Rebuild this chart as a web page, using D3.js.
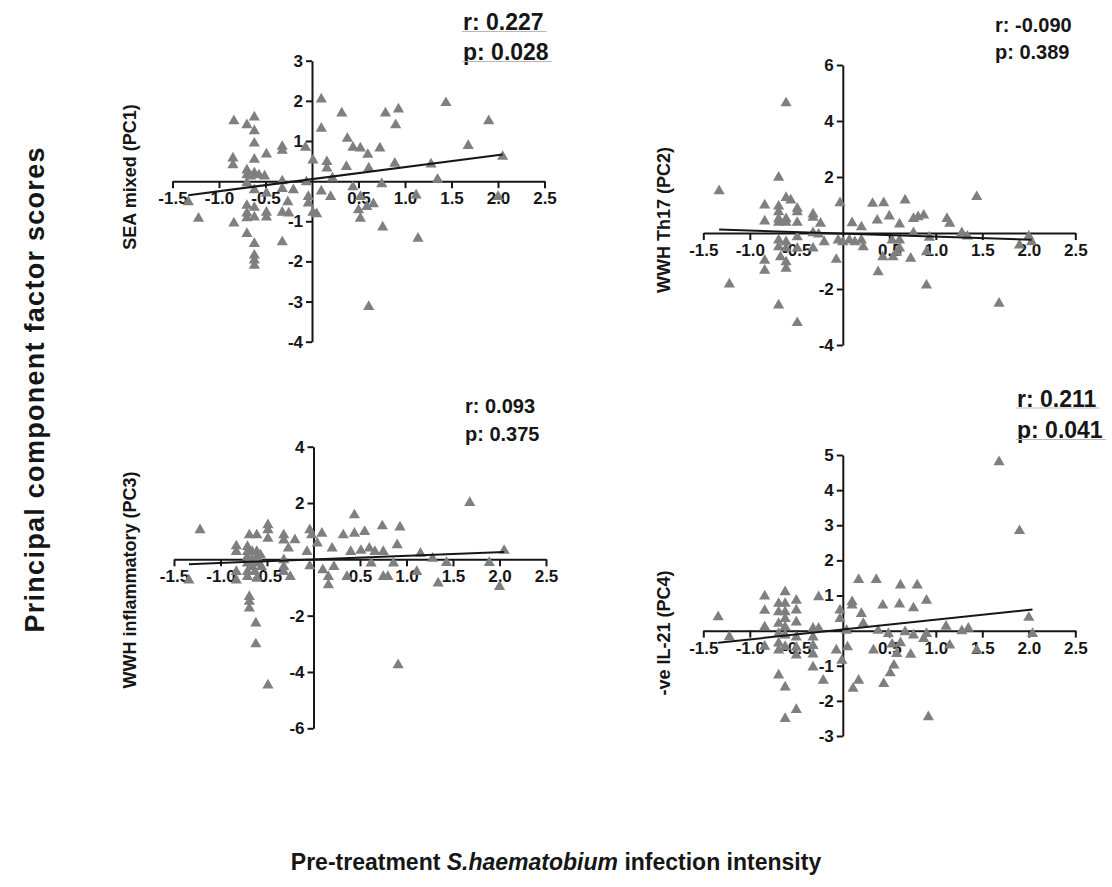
<!DOCTYPE html>
<html>
<head>
<meta charset="utf-8">
<script src="https://cdn.jsdelivr.net/npm/d3@7/dist/d3.min.js"></script>
<style>
  html, body { margin: 0; padding: 0; background: #fff; }
  svg { display: block; }
</style>
</head>
<body>
<svg id="chart" width="1112" height="887"></svg>
<script>
// Infection intensity (x) vs principal component factor scores (y)
const xTicks = [-1.5, -1.0, -0.5, 0.5, 1.0, 1.5, 2.0, 2.5];

const pc1YTicks = [3, 2, 1, -1, -2, -3, -4];
const pc2YTicks = [6, 4, 2, -2, -4];
const pc3YTicks = [4, 2, -2, -4, -6];
const pc4YTicks = [5, 4, 3, 2, 1, -1, -2, -3];

const pc1Points = [
  [0.10,2.04],[0.32,1.69],[-0.84,1.50],[-0.70,1.40],[-0.62,1.59],[-0.62,1.25],[-0.62,0.94],[0.10,1.31],
  [0.38,1.06],[0.44,0.84],[0.52,0.82],[0.60,0.66],[-0.32,0.86],[-0.32,0.76],[-0.49,0.67],[-0.07,0.84],
  [-0.85,0.57],[-0.85,0.40],[-0.62,0.54],[0.01,0.52],[0.16,0.48],[0.16,0.32],[0.37,0.36],[-0.70,0.27],
  [-0.70,0.15],[-0.62,0.20],[-0.57,0.15],[-0.51,0.12],[-0.66,0.12],[0.22,0.07],[-0.32,0.00],[-0.70,-0.05],
  [-0.06,-0.02],[-0.32,-0.19],[-0.20,-0.22],[-0.62,-0.22],[-0.49,-0.30],[0.10,-0.25],[0.20,-0.39],[0.44,-0.15],
  [0.52,-0.39],[-0.04,-0.39],[-0.04,-0.55],[-0.26,-0.52],[-0.70,-0.61],[-0.62,-0.66],[-0.70,-0.80],[-0.49,-0.78],
  [-0.49,-0.90],[-0.32,-0.78],[-0.25,-0.80],[0.01,-0.78],[0.05,-0.82],[-0.62,-0.90],[-0.70,-0.92],[-1.22,-0.93],
  [-0.84,-1.05],[0.52,-0.93],[-0.70,-1.31],[-0.62,-1.56],[-0.32,-1.52],[-0.62,-1.85],[-0.62,-1.97],[-0.62,-2.10],
  [-1.33,-0.52],[0.61,-3.13],[1.44,1.95],[1.90,1.50],[0.79,1.69],[0.93,1.79],[0.90,1.40],[0.73,0.82],
  [1.68,0.88],[2.05,0.61],[0.61,0.32],[0.89,0.44],[1.28,0.42],[1.35,0.04],[0.75,-0.07],[0.66,-0.57],
  [0.50,-0.72],[0.59,-0.64],[1.12,-0.35],[2.00,-0.39],[0.76,-1.15],[1.14,-1.43]
];

const pc2Points = [
  [-0.61,4.64],[-0.69,1.98],[-1.33,1.50],[-0.61,1.26],[-0.56,1.17],[-0.84,0.99],[-0.69,0.95],[-0.49,0.87],
  [-0.49,0.75],[-0.69,0.75],[-0.03,1.07],[-0.32,0.67],[-0.32,0.55],[-0.24,0.34],[-0.69,0.50],[-0.61,0.50],
  [-0.69,0.37],[-0.61,0.37],[-0.84,0.42],[-0.49,0.37],[0.10,0.36],[0.20,0.21],[0.32,1.05],[0.44,1.07],
  [0.37,0.45],[0.50,0.60],[0.67,1.17],[0.61,0.31],[-0.32,0.00],[-0.26,-0.05],[-0.20,-0.32],[-0.49,-0.14],
  [-0.69,-0.26],[-0.61,-0.32],[-0.69,-0.50],[-0.61,-0.55],[-0.49,-0.55],[-0.05,-0.26],[0.00,-0.32],[0.07,-0.26],
  [0.13,-0.32],[0.20,-0.26],[0.22,-0.50],[-0.32,-0.55],[-0.07,-0.95],[-0.84,-0.98],[-0.84,-1.34],[-0.61,-1.04],
  [-0.61,-1.27],[-0.67,-0.86],[0.38,-1.39],[0.53,-0.26],[0.61,-0.26],[0.61,-0.55],[0.58,-0.70],[0.43,-0.86],
  [-1.22,-1.83],[-0.69,-2.58],[-0.49,-3.21],[1.44,1.29],[0.76,0.51],[0.81,0.57],[0.87,0.63],[1.12,0.51],
  [1.15,0.34],[0.76,0.00],[0.93,-0.16],[1.28,0.00],[1.34,-0.12],[2.00,-0.12],[2.03,-0.32],[1.90,-0.44],
  [0.73,-0.91],[0.90,-0.68],[0.90,-1.87],[1.68,-2.52],[0.54,-0.86]
];

const pc3Points = [
  [-1.22,1.04],[-0.83,0.47],[-0.83,0.27],[-0.69,0.86],[-0.61,0.86],[-0.49,1.22],[-0.49,1.04],[-0.49,0.74],
  [-0.32,0.86],[-0.32,0.68],[-0.20,0.69],[-0.27,0.39],[-0.04,1.04],[-0.02,0.86],[0.09,0.92],[0.04,0.57],
  [-0.07,0.27],[0.20,0.39],[0.32,0.86],[0.44,1.57],[0.44,0.92],[0.55,0.98],[0.40,0.27],[0.51,0.31],
  [-0.71,0.45],[-0.71,0.27],[-0.66,0.27],[-0.61,0.27],[-0.71,0.09],[-0.66,-0.02],[-0.61,0.09],[-0.57,0.15],
  [-0.71,-0.14],[-0.66,-0.26],[-0.61,-0.14],[-0.71,-0.44],[-0.63,-0.44],[-0.56,-0.26],[-0.71,-0.62],[-0.61,-0.68],
  [-0.83,-0.44],[-0.83,-0.74],[-0.32,-0.02],[-0.32,-0.26],[-0.32,-0.44],[-0.25,-0.62],[-0.04,-0.24],[0.10,-0.38],
  [0.16,-0.62],[0.16,-0.91],[0.22,-0.26],[0.36,-0.62],[-1.34,-0.74],[-0.69,-1.33],[-0.69,-1.50],[-0.69,-1.74],
  [-0.62,-2.27],[-0.62,-3.01],[-0.49,-4.47],[0.74,1.18],[0.93,1.14],[0.90,0.51],[1.68,2.01],[2.05,0.31],
  [0.60,0.39],[0.66,0.27],[0.75,0.27],[0.62,-0.14],[0.86,-0.14],[0.75,-0.62],[0.80,-0.62],[1.11,-0.44],
  [1.15,0.21],[1.28,0.03],[1.43,-0.12],[1.34,-0.85],[1.89,-0.12],[2.00,-0.97],[0.91,-3.75]
];

const pc4Points = [
  [-1.34,0.39],[-1.22,-0.18],[-0.84,0.98],[-0.84,0.57],[-0.84,0.10],[-0.84,-0.45],[-0.62,1.10],[-0.69,0.77],
  [-0.69,0.53],[-0.62,0.77],[-0.62,0.53],[-0.62,0.34],[-0.69,0.20],[-0.62,0.10],[-0.69,-0.09],[-0.62,-0.13],
  [-0.69,-0.36],[-0.62,-0.46],[-0.69,-0.56],[-0.50,0.86],[-0.50,0.58],[-0.50,0.24],[-0.50,-0.19],[-0.50,-0.48],
  [-0.50,-0.70],[-0.32,0.06],[-0.32,-0.19],[-0.32,-0.43],[-0.32,-0.67],[-0.26,0.96],[-0.26,0.06],[-0.32,-1.04],
  [-0.21,-1.42],[-0.69,-1.27],[-0.62,-1.61],[-0.50,-2.25],[-0.62,-2.51],[-0.03,0.58],[-0.03,0.34],[-0.07,-0.56],
  [-0.01,-0.85],[0.05,-0.47],[0.10,0.82],[0.10,0.72],[0.20,0.48],[0.22,0.20],[0.17,1.45],[0.36,1.45],
  [0.11,-1.65],[0.17,-1.42],[0.33,-0.56],[0.04,0.00],[1.68,4.80],[1.90,2.84],[0.62,1.29],[0.80,1.29],
  [0.43,0.72],[0.61,0.75],[0.76,0.64],[0.90,0.86],[0.38,0.00],[0.49,-0.09],[0.67,-0.04],[0.76,-0.13],
  [0.90,-0.09],[0.87,-0.23],[1.11,0.12],[1.28,-0.01],[1.35,0.06],[2.00,0.37],[2.04,-0.09],[0.53,-0.39],
  [0.62,-0.35],[0.58,-0.66],[0.73,-0.68],[1.15,-0.42],[1.44,-0.56],[0.55,-0.99],[0.51,-1.21],[0.44,-1.51],
  [0.92,-2.46]
];

// Linear fit per panel: [intercept, slope]
const pc1Fit = [0.05, 0.30];
const pc2Fit = [-0.02, -0.11];
const pc3Fit = [0.00, 0.128];
const pc4Fit = [0.03, 0.28];

// Correlation statistics: [r, p]
const pc1Stats = ["0.227", "0.028"];
const pc2Stats = ["-0.090", "0.389"];
const pc3Stats = ["0.093", "0.375"];
const pc4Stats = ["0.211", "0.041"];

const yLabels = ["SEA mixed (PC1)", "WWH Th17 (PC2)", "WWH inflammatory (PC3)", "-ve IL-21 (PC4)"];

const panels = [
  { points: pc1Points, fit: pc1Fit, stats: pc1Stats, yTicks: pc1YTicks, yDomain: [-4, 3], label: yLabels[0], significant: true,
    box: { x0: 172.5, x1: 544.5, yTop: 60.7, yBot: 341.7, labelX: 136, labelY: 177, statX: 463, statY: [30, 60] } },
  { points: pc2Points, fit: pc2Fit, stats: pc2Stats, yTicks: pc2YTicks, yDomain: [-4, 6], label: yLabels[1], significant: false,
    box: { x0: 703.3, x1: 1075.3, yTop: 65, yBot: 345, labelX: 670, labelY: 220, statX: 995, statY: [31.5, 59] } },
  { points: pc3Points, fit: pc3Fit, stats: pc3Stats, yTicks: pc3YTicks, yDomain: [-6, 4], label: yLabels[2], significant: false,
    box: { x0: 174, x1: 546, yTop: 446.7, yBot: 728.3, labelX: 136, labelY: 580, statX: 465, statY: [413, 441] } },
  { points: pc4Points, fit: pc4Fit, stats: pc4Stats, yTicks: pc4YTicks, yDomain: [-3, 5], label: yLabels[3], significant: true,
    box: { x0: 703.3, x1: 1075.3, yTop: 455, yBot: 736, labelX: 670, labelY: 633, statX: 1017, statY: [406.5, 438] } }
];

const FONT = "'Liberation Sans', Arial, Helvetica, sans-serif";
const INK = "#161616";
const svg = d3.select("#chart");

panels.forEach(p => {
  const b = p.box;
  const x = d3.scaleLinear().domain([-1.5, 2.5]).range([b.x0, b.x1]);
  const y = d3.scaleLinear().domain(p.yDomain).range([b.yBot, b.yTop]);
  const g = svg.append("g");

  // x axis through y = 0
  const xAxis = d3.axisBottom(x).tickValues(xTicks).tickFormat(d3.format(".1f"))
    .tickSize(7).tickSizeOuter(0).tickPadding(4);
  const gx = g.append("g").attr("transform", `translate(0,${y(0)})`).call(xAxis);

  // y axis through x = 0
  const yAxis = d3.axisLeft(y).tickValues(p.yTicks).tickFormat(d3.format("d"))
    .tickSize(6).tickSizeOuter(0).tickPadding(3);
  const gy = g.append("g").attr("transform", `translate(${x(0)},0)`).call(yAxis);

  [gx, gy].forEach(a => {
    a.selectAll("path.domain").attr("stroke", INK).attr("stroke-width", 2);
    a.selectAll(".tick line").attr("stroke", INK).attr("stroke-width", 2);
    a.selectAll(".tick text").attr("fill", INK)
      .style("font-family", FONT).style("font-size", "17px").style("font-weight", "bold");
  });
  gx.selectAll(".tick text").text(d => d < 0 ? "-" + d3.format(".1f")(-d) : d3.format(".1f")(d));
  gy.selectAll(".tick text").text(d => d < 0 ? "-" + (-d) : d);

  // scatter (triangles)
  const tri = d3.symbol().type(d3.symbolTriangle).size(54);
  g.append("g").selectAll("path").data(p.points).join("path")
    .attr("d", tri)
    .attr("transform", d => `translate(${x(d[0])},${y(d[1])})`)
    .attr("fill", "#7f7f7f");

  // regression line over the range of the data
  const [xmin, xmax] = d3.extent(p.points, d => d[0]);
  const line = d3.line().x(d => x(d)).y(d => y(p.fit[0] + p.fit[1] * d));
  g.append("path").datum([xmin, xmax]).attr("d", line)
    .attr("fill", "none").attr("stroke", INK).attr("stroke-width", 2);

  // y label
  g.append("text")
    .attr("transform", `translate(${b.labelX},${b.labelY}) rotate(-90)`)
    .attr("text-anchor", "middle")
    .style("font-family", FONT).style("font-size", "18px").style("font-weight", "bold")
    .attr("fill", INK).text(p.label);

  // statistics
  const statSize = p.significant ? 23 : 20;
  ["r: " + p.stats[0], "p: " + p.stats[1]].forEach((t, i) => {
    const txt = g.append("text")
      .attr("x", b.statX).attr("y", b.statY[i])
      .style("font-family", FONT).style("font-size", statSize + "px").style("font-weight", "bold")
      .attr("fill", INK).text(t);
    if (p.significant) {
      const bb = txt.node().getBBox();
      g.append("line")
        .attr("x1", bb.x - 1).attr("x2", bb.x + bb.width + 3)
        .attr("y1", b.statY[i] + 1.5).attr("y2", b.statY[i] + 1.5)
        .attr("stroke", "#b8b8b8").attr("stroke-width", 1);
    }
  });
});

// shared axis titles
svg.append("text")
  .attr("transform", "translate(44,390) rotate(-90)")
  .attr("text-anchor", "middle")
  .attr("textLength", 485).attr("lengthAdjust", "spacing")
  .style("font-family", FONT).style("font-size", "27px").style("font-weight", "bold")
  .attr("fill", INK).text("Principal component factor scores");

const xt = svg.append("text")
  .attr("x", 556).attr("y", 870)
  .attr("text-anchor", "middle")
  .style("font-family", FONT).style("font-size", "23px").style("font-weight", "bold")
  .attr("fill", INK);
xt.append("tspan").text("Pre-treatment ");
xt.append("tspan").style("font-style", "italic").text("S.haematobium");
xt.append("tspan").text(" infection intensity");
</script>
</body>
</html>
